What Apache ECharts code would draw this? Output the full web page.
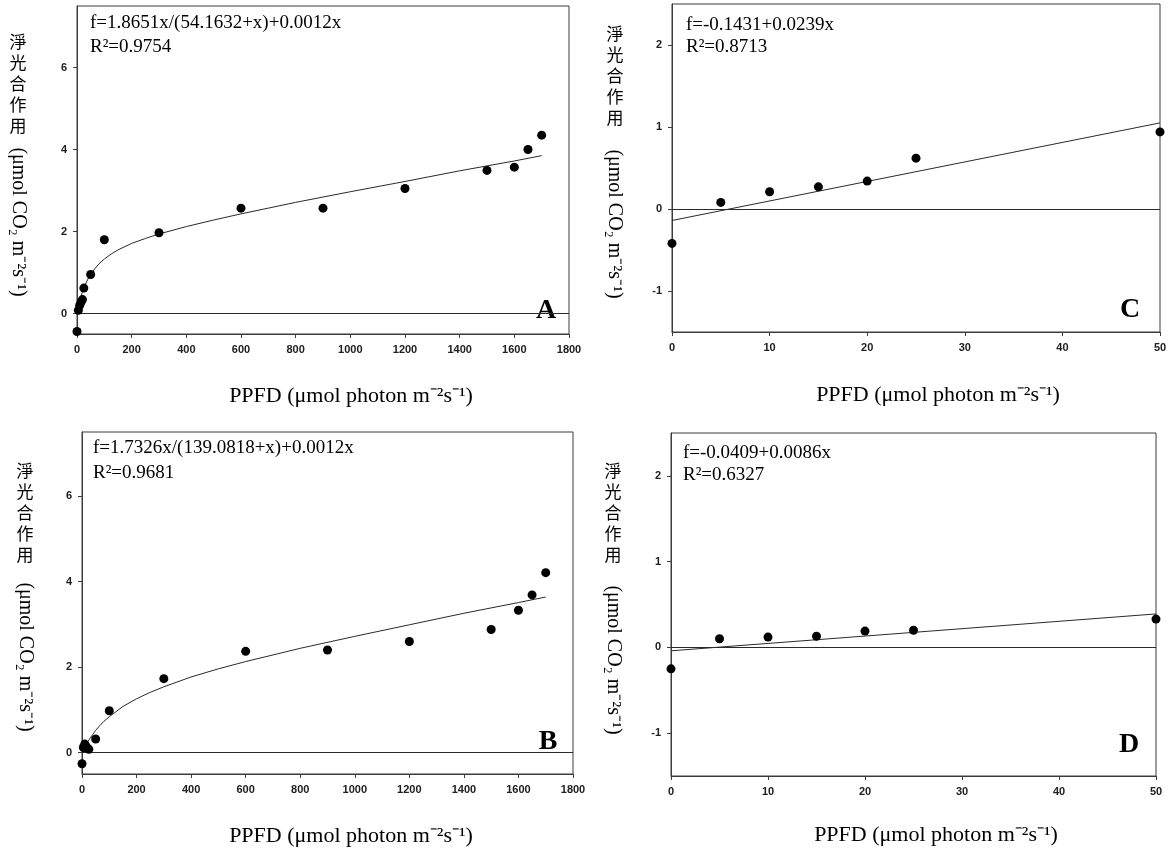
<!DOCTYPE html>
<html>
<head>
<meta charset="utf-8">
<script src="https://cdn.jsdelivr.net/npm/echarts@6/dist/echarts.min.js"></script>
<style>
html,body{margin:0;padding:0;background:#fff;}
#chart{width:1171px;height:856px;}
</style>
</head>
<body>
<div id="chart"></div>
<script>
// ---------- data ----------
const ppfdAB = [0, 5, 10, 15, 20, 25, 50, 100, 300, 600, 900, 1200, 1500, 1600, 1650, 1700];
const pnA = [-0.44, 0.08, 0.20, 0.28, 0.34, 0.62, 0.95, 1.80, 1.97, 2.57, 2.57, 3.05, 3.49, 3.57, 4.00, 4.35];
const pnB = [-0.26, 0.12, 0.20, 0.15, 0.10, 0.08, 0.32, 0.98, 1.73, 2.37, 2.40, 2.60, 2.88, 3.33, 3.69, 4.21];
const ppfdCD = [0, 5, 10, 15, 20, 25, 50];
const pnC = [-0.42, 0.08, 0.21, 0.27, 0.34, 0.62, 0.94];
const pnD = [-0.25, 0.10, 0.12, 0.13, 0.19, 0.20, 0.33];

// fitted curves, values
const fitXAB = [0, 2, 5, 10, 15, 20, 30, 40, 50, 65, 80, 100, 125, 150, 200, 250, 300, 400, 500, 600, 800, 1000, 1200, 1400, 1600, 1700];
const fitA = [0, 0.07, 0.16, 0.30, 0.42, 0.53, 0.70, 0.84, 0.96, 1.09, 1.21, 1.33, 1.45, 1.55, 1.71, 1.83, 1.94, 2.12, 2.28, 2.43, 2.71, 2.97, 3.22, 3.48, 3.72, 3.85];
const fitB = [0, 0.03, 0.07, 0.13, 0.18, 0.24, 0.34, 0.43, 0.52, 0.63, 0.73, 0.84, 0.96, 1.08, 1.26, 1.41, 1.54, 1.77, 1.96, 2.13, 2.44, 2.72, 2.99, 3.26, 3.51, 3.64];
const fitXCD = [0, 50];
const fitC = [-0.14, 1.05];
const fitD = [-0.04, 0.39];

const ticksYAB = [0, 2, 4, 6];
const ticksYCD = [-1, 0, 1, 2];
const equations = ['f=1.8651x/(54.1632+x)+0.0012x', 'f=-0.1431+0.0239x', 'f=1.7326x/(139.0818+x)+0.0012x', 'f=-0.0409+0.0086x'];
const r2Labels = ['R\u00B2=0.9754', 'R\u00B2=0.8713', 'R\u00B2=0.9681', 'R\u00B2=0.6327'];
const panelLetters = ['A', 'C', 'B', 'D'];
const yTitleCJK = '淨光合作用';
const yTitleUnit = '(\u03BCmol CO\u2082 m\u207B\u00B2s\u207B\u00B9)';
const xTitle = 'PPFD (\u03BCmol photon m\u207B\u00B2s\u207B\u00B9)';

// ---------- layout ----------
const panels = [
  {grid: {left: 77, top: 6, width: 492, height: 328}, xMin: 0, xMax: 1800, xInt: 200, yMin: -0.5, yMax: 7.5, yTicks: ticksYAB,
   pts: [ppfdAB, pnA], fit: [fitXAB, fitA],
   eq: [90, 23], r2: [90, 47], letter: [546, 311], xt: [351, 396], yc: [18, 31], yu: [18, 222]},
  {grid: {left: 672, top: 4, width: 488, height: 328}, xMin: 0, xMax: 50, xInt: 10, yMin: -1.5, yMax: 2.5, yTicks: ticksYCD,
   pts: [ppfdCD, pnC], fit: [fitXCD, fitC],
   eq: [686, 25], r2: [686, 47], letter: [1130, 310], xt: [938, 395], yc: [615, 23], yu: [614, 224]},
  {grid: {left: 82, top: 432, width: 491, height: 342}, xMin: 0, xMax: 1800, xInt: 200, yMin: -0.5, yMax: 7.5, yTicks: ticksYAB,
   pts: [ppfdAB, pnB], fit: [fitXAB, fitB],
   eq: [93, 448], r2: [93, 473], letter: [548, 742], xt: [351, 836], yc: [25, 460], yu: [25, 657]},
  {grid: {left: 671, top: 433, width: 485, height: 343}, xMin: 0, xMax: 50, xInt: 10, yMin: -1.5, yMax: 2.5, yTicks: ticksYCD,
   pts: [ppfdCD, pnD], fit: [fitXCD, fitD],
   eq: [683, 453], r2: [683, 475], letter: [1129, 745], xt: [936, 835], yc: [613, 460], yu: [613, 660]}
];

const serif = '"Liberation Serif", "Times New Roman", serif';
const axisColor = '#3c3c3c';
const tickFont = '"Liberation Sans", Arial, sans-serif';
const grids = [], xAxes = [], yAxes = [], series = [], graphics = [];

panels.forEach((p, i) => {
  grids.push(Object.assign({show: true, borderColor: axisColor, borderWidth: 1, backgroundColor: 'transparent'}, p.grid));
  xAxes.push({
    type: 'value', gridIndex: i, min: p.xMin, max: p.xMax, interval: p.xInt,
    axisLine: {show: true, onZero: false, lineStyle: {color: axisColor, width: 1}},
    axisTick: {show: true, inside: false, length: 4, lineStyle: {color: axisColor}},
    axisLabel: {color: '#202020', fontSize: 11, fontWeight: 'bold', fontFamily: tickFont, margin: 10, formatter: v => String(v)},
    splitLine: {show: false}
  });
  yAxes.push({
    type: 'value', gridIndex: i, min: p.yMin, max: p.yMax,
    axisLine: {show: true, onZero: false, lineStyle: {color: axisColor, width: 1}},
    axisTick: {show: true, inside: false, length: 4, lineStyle: {color: axisColor}, customValues: p.yTicks},
    axisLabel: {color: '#202020', fontSize: 11, fontWeight: 'bold', fontFamily: tickFont, margin: 10, customValues: p.yTicks, formatter: v => String(v)},
    splitLine: {show: false}
  });
  series.push({
    type: 'line', xAxisIndex: i, yAxisIndex: i,
    data: p.fit[0].map((x, k) => [x, p.fit[1][k]]),
    showSymbol: false, symbol: 'none', smooth: false,
    lineStyle: {color: '#2a2a2a', width: 1},
    silent: true, z: 3,
    markLine: {silent: true, symbol: 'none', label: {show: false},
      lineStyle: {color: '#2a2a2a', type: 'solid', width: 1}, data: [{yAxis: 0}]}
  });
  series.push({
    type: 'scatter', xAxisIndex: i, yAxisIndex: i,
    data: p.pts[0].map((x, k) => [x, p.pts[1][k]]),
    symbol: 'circle', symbolSize: 9, itemStyle: {color: '#000', opacity: 1}, z: 5
  });
  graphics.push({type: 'text', x: p.eq[0], y: p.eq[1], style: {text: equations[i], font: '19px ' + serif, fill: '#000', textAlign: 'left', textVerticalAlign: 'middle'}});
  graphics.push({type: 'text', x: p.r2[0], y: p.r2[1], style: {text: r2Labels[i], font: '19px ' + serif, fill: '#000', textAlign: 'left', textVerticalAlign: 'middle'}});
  graphics.push({type: 'text', x: p.letter[0], y: p.letter[1], style: {text: panelLetters[i], font: 'bold 28px ' + serif, fill: '#000', textAlign: 'center', textVerticalAlign: 'middle'}});
  graphics.push({type: 'text', x: p.xt[0], y: p.xt[1], style: {text: xTitle, font: '22px ' + serif, fill: '#000', textAlign: 'center', textVerticalAlign: 'middle'}});
  graphics.push({type: 'text', x: p.yc[0], y: p.yc[1], style: {text: yTitleCJK.split('').join('\n'), font: '17px "Noto Sans CJK TC", "Noto Sans CJK SC", sans-serif', lineHeight: 21, fill: '#000', textAlign: 'center', textVerticalAlign: 'top'}});
  graphics.push({type: 'text', x: p.yu[0], y: p.yu[1], rotation: -Math.PI / 2, style: {text: yTitleUnit, font: '20px ' + serif, fill: '#000', textAlign: 'center', textVerticalAlign: 'middle'}});
});

const chart = echarts.init(document.getElementById('chart'), null, {renderer: 'canvas'});
chart.setOption({
  animation: false,
  backgroundColor: '#fff',
  grid: grids, xAxis: xAxes, yAxis: yAxes, series: series, graphic: graphics
});
</script>
</body>
</html>
